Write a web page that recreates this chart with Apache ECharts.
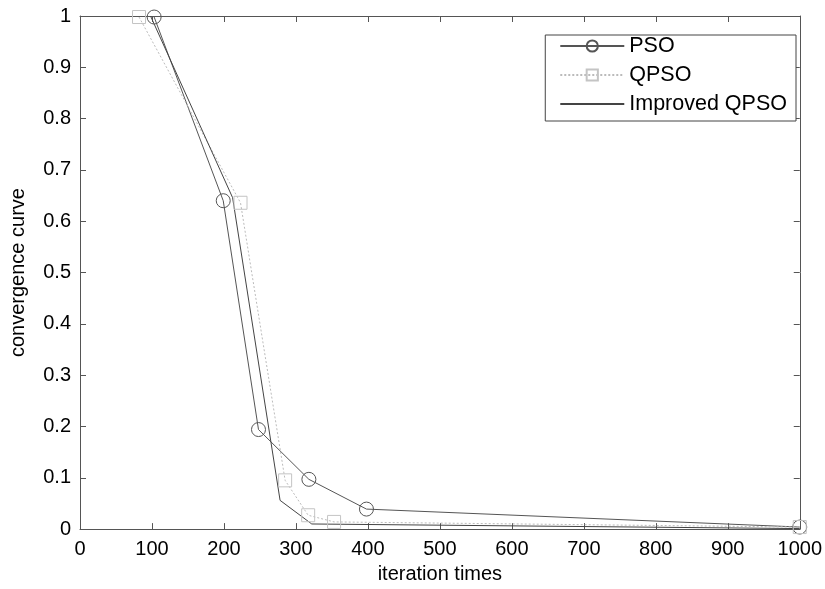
<!DOCTYPE html>
<html><head><meta charset="utf-8">
<script src="https://cdn.jsdelivr.net/npm/echarts@6/dist/echarts.min.js"></script>
<style>html,body{margin:0;padding:0;background:#fff}#c{width:825px;height:589px}</style>
</head><body><div id="c"></div>
<script>
const xTicks = [0,100,200,300,400,500,600,700,800,900,1000];
const yTicks = [0,0.1,0.2,0.3,0.4,0.5,0.6,0.7,0.8,0.9,1];
const psoX = [103,199,248,318,398,1000];
const psoY = [0.998,0.640,0.194,0.097,0.039,0.004];
const qpsoX = [82,223,285,317,353,1000];
const qpsoY = [0.998,0.636,0.095,0.027,0.014,0.004];
const impX = [98,212,278,322,1000];
const impY = [1.0,0.646,0.056,0.010,0.001];

const zip = (a,b)=>a.map((v,i)=>[v,b[i]]);
const F = 'Liberation Sans, Arial, sans-serif';
const axColor = '#555';
const tick = {show:true,inside:true,length:6,lineStyle:{color:axColor}};
const line = {show:true,onZero:false,lineStyle:{color:axColor}};
const chart = echarts.init(document.getElementById('c'));
chart.setOption({
  animation:false,
  grid:{left:79,right:23,top:16,bottom:56,show:false},
  legend:{
    right:29, top:35, orient:'vertical',
    backgroundColor:'#fff', borderColor:'#444', borderWidth:1,
    padding:[0,9,6,14], itemWidth:64, itemHeight:14, itemGap:7,
    textStyle:{fontFamily:F,fontSize:21.5,lineHeight:17,color:'#000'},
    data:['PSO','QPSO','Improved QPSO']
  },
  xAxis:[{
    type:'value', min:0, max:1000, interval:100,
    name:'iteration times', nameLocation:'middle', nameGap:34,
    nameTextStyle:{fontFamily:F,fontSize:20,color:'#000'},
    axisLine:line, axisTick:tick,
    axisLabel:{fontFamily:F,fontSize:20,color:'#000',margin:10,formatter:v=>String(v)},
    splitLine:{show:false}
  },{
    type:'value', position:'top', min:0, max:1000, interval:100,
    axisLine:line, axisTick:tick,
    axisLabel:{show:false}, splitLine:{show:false}
  }],
  yAxis:[{
    type:'value', min:0, max:1, interval:0.1,
    name:'convergence curve', nameLocation:'middle', nameGap:52,
    nameTextStyle:{fontFamily:F,fontSize:20,color:'#000'},
    axisLine:line, axisTick:tick,
    axisLabel:{fontFamily:F,fontSize:20,color:'#000',margin:9,
      formatter:v=>String(Math.round(v*10)/10)},
    splitLine:{show:false}
  },{
    type:'value', position:'right', min:0, max:1, interval:0.1,
    axisLine:line, axisTick:tick,
    axisLabel:{show:false}, splitLine:{show:false}
  }],
  series:[
    {name:'PSO', type:'line', data:zip(psoX,psoY), symbol:'circle', symbolSize:14,
     showAllSymbol:true,
     lineStyle:{color:'#555',width:1},
     itemStyle:{color:'rgba(0,0,0,0)',borderColor:'#555',borderWidth:1}},
    {name:'QPSO', type:'line', data:zip(qpsoX,qpsoY), symbol:'rect', symbolSize:13,
     showAllSymbol:true,
     lineStyle:{color:'#bbb',width:1,type:[2,2]},
     itemStyle:{color:'rgba(0,0,0,0)',borderColor:'#c4c4c4',borderWidth:1}},
    {name:'Improved QPSO', type:'line', data:zip(impX,impY), symbol:'none',
     lineStyle:{color:'#444',width:1},
     itemStyle:{color:'rgba(0,0,0,0)',borderColor:'rgba(0,0,0,0)',borderWidth:0}}
  ]
});
</script></body></html>
